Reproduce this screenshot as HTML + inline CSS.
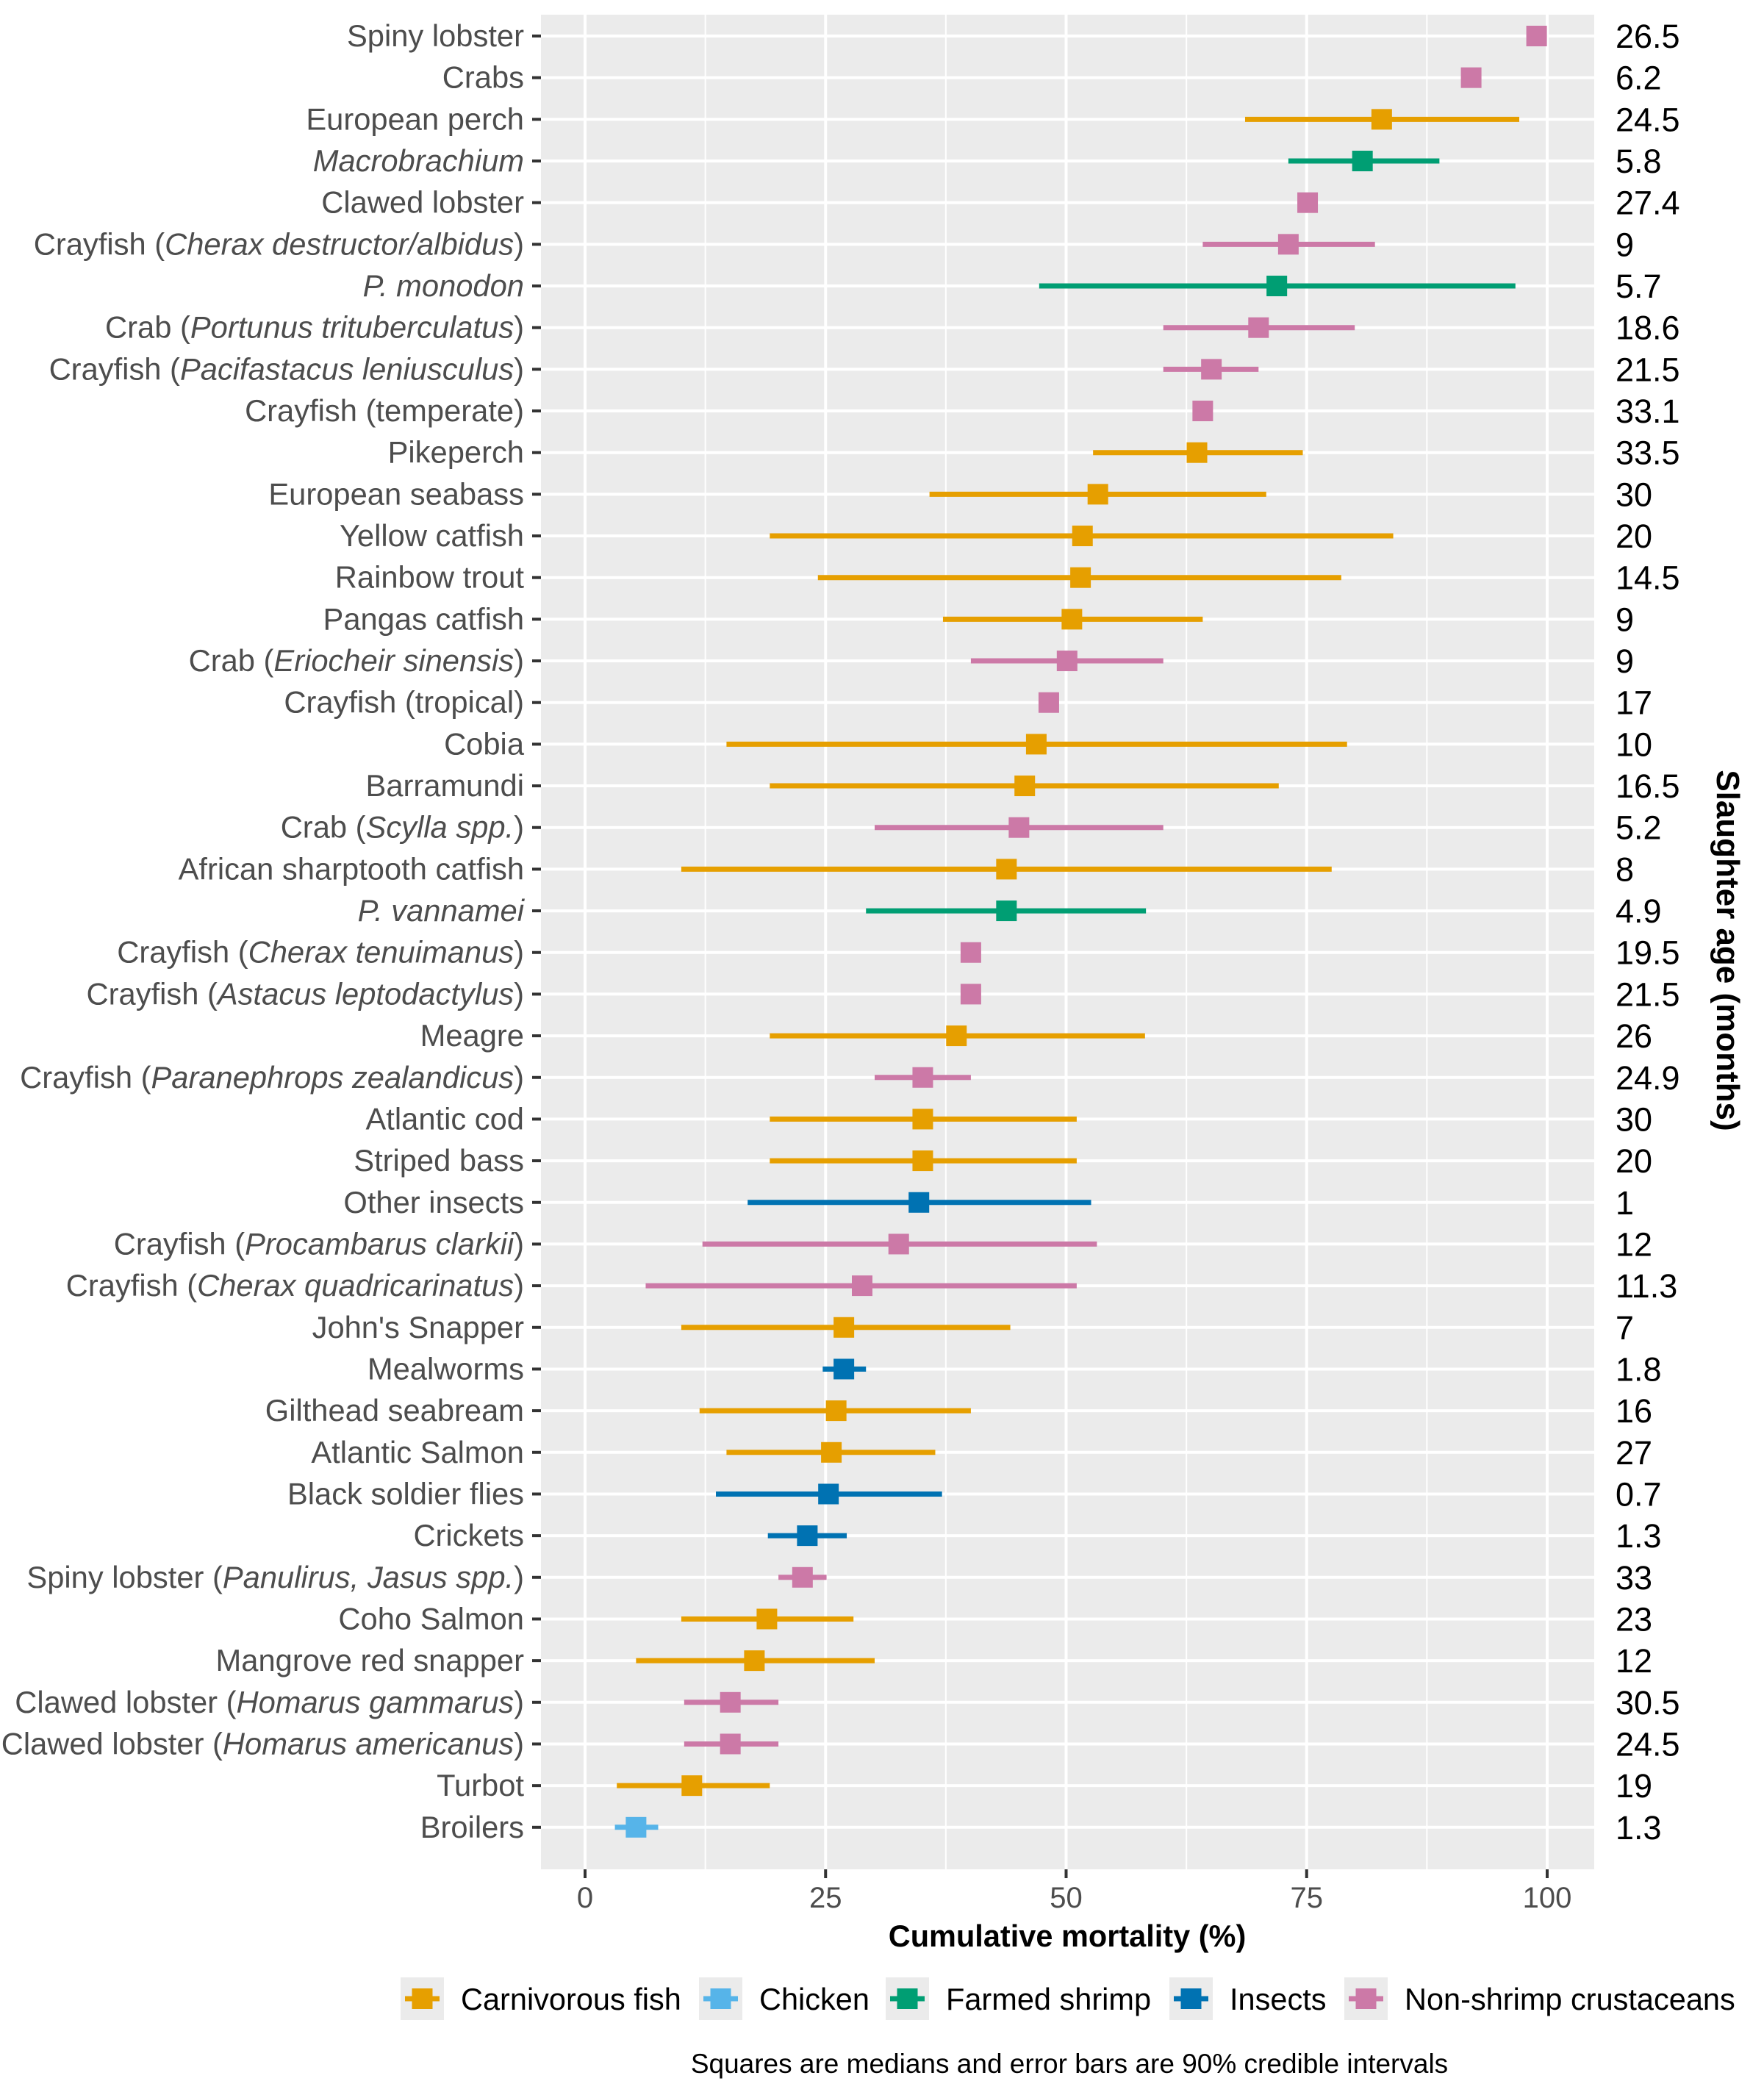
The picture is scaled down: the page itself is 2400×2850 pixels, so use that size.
<!DOCTYPE html>
<html><head><meta charset="utf-8"><style>
html,body{margin:0;padding:0;background:#fff}
svg{display:block;font-family:"Liberation Sans",Arial,sans-serif}
</style></head><body>
<svg id="chart" width="2400" height="2850" viewBox="0 0 2400 2850" xmlns="http://www.w3.org/2000/svg">
<rect x="736" y="20" width="1433" height="2523" fill="#ebebeb"/>
<g id="grid"></g><g id="marks"></g><g id="ylabels"></g><g id="rlabels"></g><g id="xaxis"></g>
<text x="1452" y="2648" font-size="41.5" font-weight="bold" text-anchor="middle" fill="#000">Cumulative mortality (%)</text>
<text transform="translate(2336,1293) rotate(90)" font-size="44" font-weight="bold" text-anchor="middle" fill="#000">Slaughter age (months)</text>
<g id="legend"></g>
<text x="1455" y="2820" font-size="37" text-anchor="middle" fill="#000">Squares are medians and error bars are 90% credible intervals</text>
</svg>
<script>
const labels=["Spiny lobster","Crabs","European perch","*Macrobrachium*","Clawed lobster","Crayfish (*Cherax destructor/albidus*)","*P. monodon*","Crab (*Portunus trituberculatus*)","Crayfish (*Pacifastacus leniusculus*)","Crayfish (temperate)","Pikeperch","European seabass","Yellow catfish","Rainbow trout","Pangas catfish","Crab (*Eriocheir sinensis*)","Crayfish (tropical)","Cobia","Barramundi","Crab (*Scylla spp.*)","African sharptooth catfish","*P. vannamei*","Crayfish (*Cherax tenuimanus*)","Crayfish (*Astacus leptodactylus*)","Meagre","Crayfish (*Paranephrops zealandicus*)","Atlantic cod","Striped bass","Other insects","Crayfish (*Procambarus clarkii*)","Crayfish (*Cherax quadricarinatus*)","John's Snapper","Mealworms","Gilthead seabream","Atlantic Salmon","Black soldier flies","Crickets","Spiny lobster (*Panulirus, Jasus spp.*)","Coho Salmon","Mangrove red snapper","Clawed lobster (*Homarus gammarus*)","Clawed lobster (*Homarus americanus*)","Turbot","Broilers"];
const groups=["C","C","F","S","C","C","S","C","C","C","F","F","F","F","F","C","C","F","F","C","F","S","C","C","F","C","F","F","I","C","C","F","I","F","F","I","I","C","F","F","C","C","F","K"];
const medians=[98.9,92.1,82.8,80.8,75.1,73.1,71.9,70,65.1,64.2,63.6,53.3,51.7,51.5,50.6,50.1,48.2,46.9,45.7,45.1,43.8,43.8,40.1,40.1,38.6,35.1,35.1,35.1,34.7,32.6,28.8,26.9,26.9,26.1,25.6,25.3,23.1,22.6,18.9,17.6,15.1,15.1,11.1,5.3];
const lows=[98.9,92.1,68.6,73.1,75.1,64.2,47.2,60.1,60.1,64.2,52.8,35.8,19.2,24.2,37.2,40.1,48.2,14.7,19.2,30.1,10,29.2,40.1,40.1,19.2,30.1,19.2,19.2,16.9,12.2,6.3,10,24.7,11.9,14.7,13.6,19,20.1,10,5.3,10.3,10.3,3.3,3.1];
const highs=[98.9,92.1,97.1,88.8,75.1,82.1,96.7,80,70,64.2,74.6,70.8,84,78.6,64.2,60.1,48.2,79.2,72.1,60.1,77.6,58.3,40.1,40.1,58.2,40.1,51.1,51.1,52.6,53.2,51.1,44.2,29.2,40.1,36.4,37.1,27.2,25.1,27.9,30.1,20.1,20.1,19.2,7.6];
const ages=["26.5","6.2","24.5","5.8","27.4","9","5.7","18.6","21.5","33.1","33.5","30","20","14.5","9","9","17","10","16.5","5.2","8","4.9","19.5","21.5","26","24.9","30","20","1","12","11.3","7","1.8","16","27","0.7","1.3","33","23","12","30.5","24.5","19","1.3"];
const xTicks=[0,25,50,75,100];
const legendNames=["Carnivorous fish","Chicken","Farmed shrimp","Insects","Non-shrimp crustaceans"];
const legendKeys=["F","K","S","I","C"];
const colors={F:"#E69F00",K:"#56B4E9",S:"#009E73",I:"#0072B2",C:"#CC79A7"};
const NS="http://www.w3.org/2000/svg";
const X=v=>796+v*13.09;
const Y=i=>49+i*56.67;
function mk(tag,attrs,parent){const e=document.createElementNS(NS,tag);for(const k in attrs)e.setAttribute(k,attrs[k]);parent.appendChild(e);return e;}
const grid=document.getElementById('grid');
for(let v=12.5;v<=112.5;v+=25){if(X(v)<2169){const l=mk('line',{x1:X(v),x2:X(v),y1:20,y2:2543,stroke:'#fff','stroke-width':2},grid);

}}
xTicks.forEach(v=>{const l=mk('line',{x1:X(v),x2:X(v),y1:20,y2:2543,stroke:'#fff','stroke-width':4},grid);

});
labels.forEach((_,i)=>{const l=mk('line',{x1:736,x2:2169,y1:Y(i),y2:Y(i),stroke:'#fff','stroke-width':4},grid);

});
const marks=document.getElementById('marks');
labels.forEach((_,i)=>{const c=colors[groups[i]];
if(highs[i]>lows[i]){const b=mk('line',{x1:X(lows[i]),x2:X(highs[i]),y1:Y(i),y2:Y(i),stroke:c,'stroke-width':7},marks);

}
const r=mk('rect',{x:X(medians[i])-14,y:Y(i)-14,width:28,height:28,fill:c},marks);

});
const yl=document.getElementById('ylabels');
labels.forEach((s,i)=>{const t=mk('text',{x:713,y:Y(i)+14,'font-size':41.7,'text-anchor':'end',fill:'#4d4d4d'},yl);


s.split('*').forEach((p,j)=>{if(!p)return;const ts=mk('tspan',{},t);if(j%2)ts.setAttribute('font-style','italic');ts.textContent=p;});
const tk=mk('line',{x1:724,x2:736,y1:Y(i),y2:Y(i),stroke:'#333','stroke-width':4},yl);

});
const rl=document.getElementById('rlabels');
ages.forEach((a,i)=>{const t=mk('text',{x:2198,y:Y(i)+16,'font-size':45,fill:'#000'},rl);


t.textContent=a;});
const xa=document.getElementById('xaxis');
xTicks.forEach(v=>{const l=mk('line',{x1:X(v),x2:X(v),y1:2543,y2:2555,stroke:'#333','stroke-width':4},xa);


const t=mk('text',{x:X(v),y:2595,'font-size':40,'text-anchor':'middle',fill:'#4d4d4d'},xa);


t.textContent=v;});
const lg=document.getElementById('legend');
const textX=[627,1033,1287,1673,1911];
legendNames.forEach((n,i)=>{const c=colors[legendKeys[i]];const kx=textX[i]-82;
const g=mk('g',{},lg);


mk('rect',{x:kx,y:2690,width:59,height:58,fill:'#ebebeb'},g);
mk('line',{x1:kx+6,x2:kx+53,y1:2719,y2:2719,stroke:c,'stroke-width':7},g);
mk('rect',{x:kx+15.5,y:2705,width:28,height:28,fill:c},g);
const t=mk('text',{x:textX[i],y:2734,'font-size':41.5,fill:'#000'},g);
t.textContent=n;});
</script>
</body></html>
